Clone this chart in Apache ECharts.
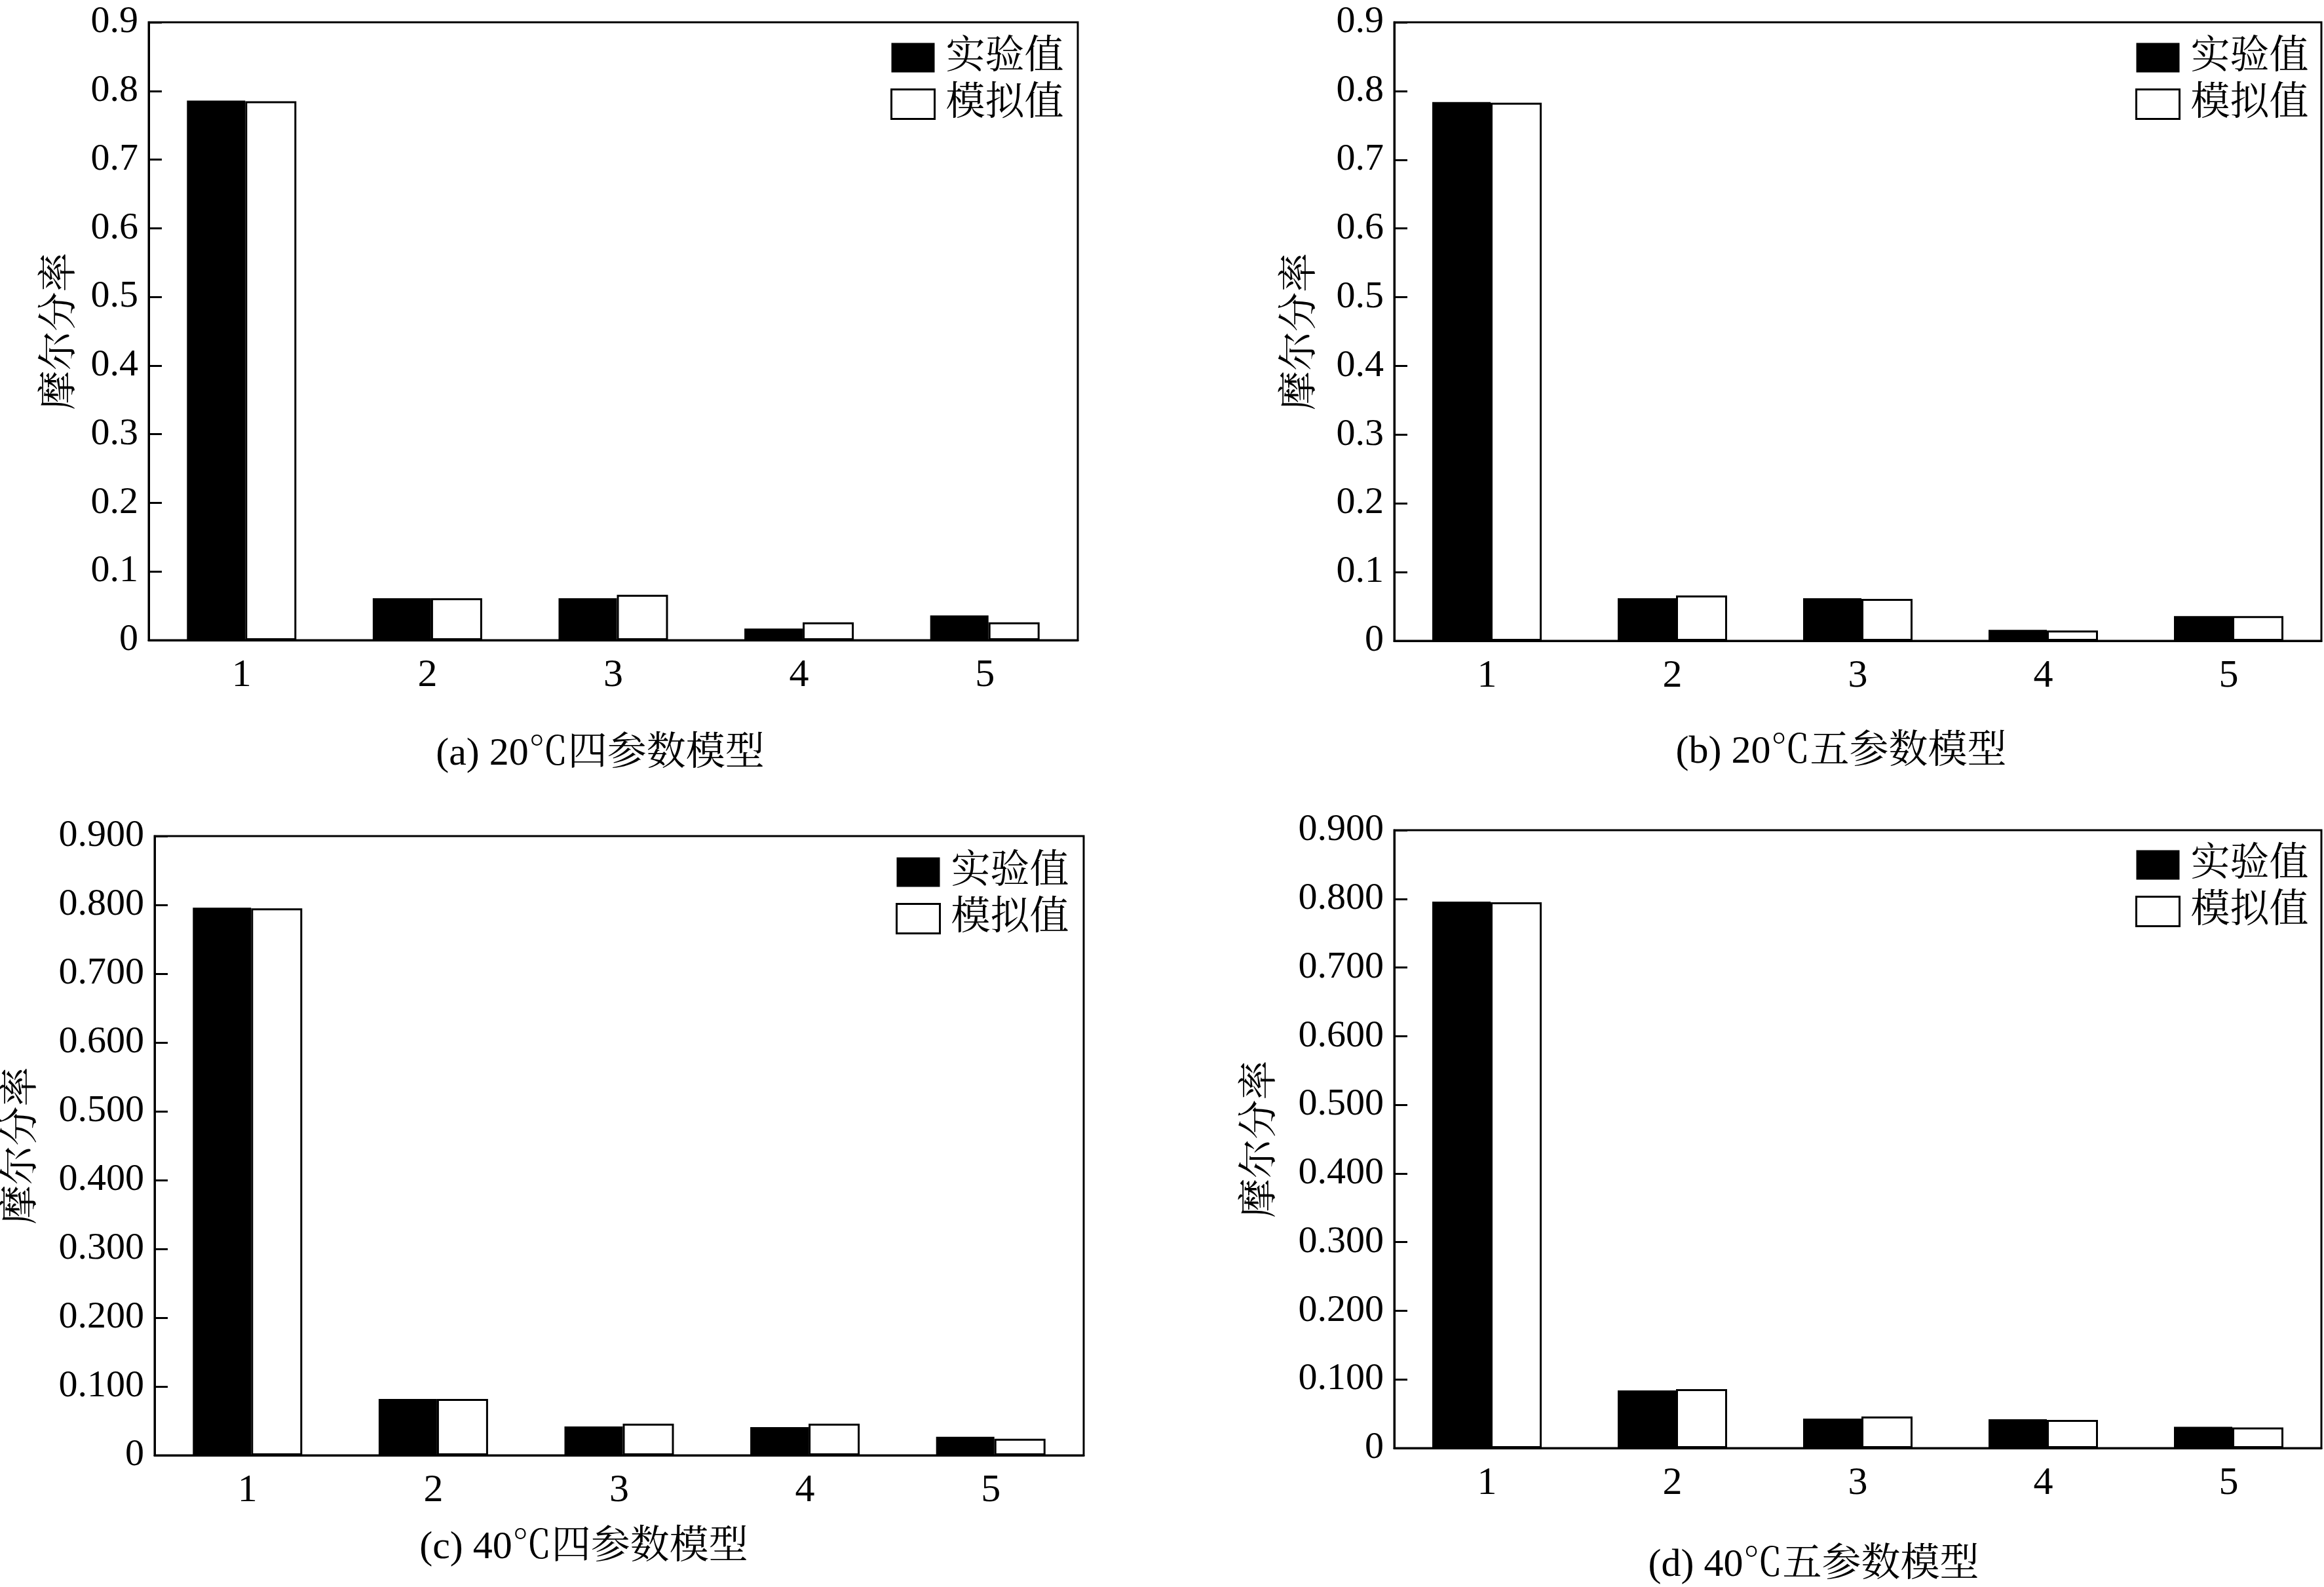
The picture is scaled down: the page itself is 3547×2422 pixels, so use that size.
<!DOCTYPE html>
<html>
<head>
<meta charset="utf-8">
<title>摩尔分率</title>
<script src="https://cdn.jsdelivr.net/npm/echarts@6/dist/echarts.min.js"></script>
<style>
  html, body { margin: 0; padding: 0; background: #fff; }
  #chart { width: 3547px; height: 2422px; }
</style>
</head>
<body>
<div id="chart"></div>
<script>
// data
const categories = ["1", "2", "3", "4", "5"];
const seriesNames = ["实验值", "模拟值"];
const yAxisName = "摩尔分率";

const expA = [0.786, 0.061, 0.061, 0.017, 0.036];
const simA = [0.785, 0.061, 0.066, 0.026, 0.026];
const expB = [0.784, 0.062, 0.062, 0.016, 0.036];
const simB = [0.783, 0.066, 0.061, 0.015, 0.036];
const expC = [0.796, 0.082, 0.042, 0.041, 0.027];
const simC = [0.795, 0.082, 0.046, 0.046, 0.024];
const expD = [0.796, 0.084, 0.043, 0.042, 0.031];
const simD = [0.795, 0.086, 0.046, 0.041, 0.030];

const captions = ["(a) 20℃四参数模型", "(b) 20℃五参数模型", "(c) 40℃四参数模型", "(d) 40℃五参数模型"];
const labelDigits = [1, 1, 3, 3];

const FONT = '"Times New Roman", "Liberation Serif", "Noto Serif CJK SC", "Noto Sans CJK SC", serif';

// layout of the four panels (pixels)
const panels = [
  { grid: { left: 227, top: 34, width: 1418, height: 943 }, exp: expA, sim: simA, nameGap: 104, legend: [1359, 58], caption: [916, 1151] },
  { grid: { left: 2128, top: 34, width: 1415, height: 944 }, exp: expB, sim: simB, nameGap: 112, legend: [3259, 58], caption: [2810, 1148] },
  { grid: { left: 236, top: 1276, width: 1418, height: 945 }, exp: expC, sim: simC, nameGap: 172, legend: [1367, 1301], caption: [891, 2362] },
  { grid: { left: 2128, top: 1267, width: 1415, height: 943 }, exp: expD, sim: simD, nameGap: 173, legend: [3259, 1290], caption: [2768, 2389] }
];

const chart = echarts.init(document.getElementById("chart"));

const option = {
  backgroundColor: "#fff",
  animation: false,
  textStyle: { fontFamily: FONT, color: "#000" },
  grid: [],
  xAxis: [],
  yAxis: [],
  legend: [],
  series: [],
  graphic: []
};

panels.forEach((p, i) => {
  option.grid.push(Object.assign({
    show: true,
    borderColor: "#000",
    borderWidth: 3,
    containLabel: false
  }, p.grid));

  option.xAxis.push({
    type: "category",
    gridIndex: i,
    data: categories,
    axisLine: { lineStyle: { color: "#000", width: 3 } },
    axisTick: { inside: true, length: 22, lineStyle: { color: "#000", width: 3 } },
    axisLabel: { color: "#000", fontSize: 60, fontFamily: FONT, margin: 24 },
    splitLine: { show: false }
  });

  const digits = labelDigits[i];
  option.yAxis.push({
    type: "value",
    gridIndex: i,
    min: 0,
    max: 0.9,
    interval: 0.1,
    name: yAxisName,
    nameLocation: "middle",
    nameRotate: 90,
    nameGap: p.nameGap,
    nameTextStyle: { color: "#000", fontSize: 60, fontFamily: FONT },
    axisLine: { show: true, lineStyle: { color: "#000", width: 3 } },
    axisTick: { show: true, inside: true, length: 20, lineStyle: { color: "#000", width: 3 } },
    axisLabel: {
      color: "#000",
      fontSize: 58,
      fontFamily: FONT,
      margin: 16,
      formatter: v => (v === 0 ? "0" : v.toFixed(digits))
    },
    splitLine: { show: false }
  });

  option.legend.push({
    orient: "vertical",
    left: p.legend[0],
    top: p.legend[1],
    padding: 0,
    itemWidth: 66,
    itemHeight: 45,
    itemGap: 11,
    icon: "rect",
    selectedMode: false,
    textStyle: { color: "#000", fontSize: 60, lineHeight: 60, fontFamily: FONT, padding: [0, 0, 0, 12] },
    data: [
      { name: seriesNames[0], itemStyle: { color: "#000" } },
      { name: seriesNames[1], itemStyle: { color: "#fff", borderColor: "#000", borderWidth: 3 } }
    ]
  });

  option.series.push({
    name: seriesNames[0],
    type: "bar",
    xAxisIndex: i,
    yAxisIndex: i,
    data: p.exp,
    barWidth: 89,
    barGap: "0%",
    itemStyle: { color: "#000" }
  });
  option.series.push({
    name: seriesNames[1],
    type: "bar",
    xAxisIndex: i,
    yAxisIndex: i,
    data: p.sim,
    barWidth: 78,
    barGap: "0%",
    itemStyle: { color: "#fff", borderColor: "#000", borderWidth: 3 }
  });

  option.graphic.push({
    type: "text",
    x: p.caption[0],
    y: p.caption[1],
    style: {
      text: captions[i],
      fill: "#000",
      fontSize: 60,
      fontFamily: FONT,
      align: "center",
      verticalAlign: "middle"
    }
  });
});

chart.setOption(option);
</script>
</body>
</html>
